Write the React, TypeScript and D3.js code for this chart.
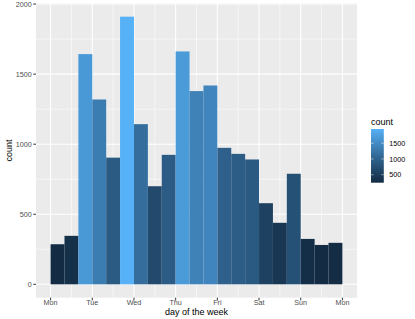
import { useEffect, useRef } from "react";
import * as d3 from "d3";

// day-of-week labels on the x axis (0..7)
const dayLabels = ["Mon", "Tue", "Wed", "Thu", "Fri", "Sat", "Sun", "Mon"];
// 21 bins, 3 per day
const binCounts = [
  286, 346, 1643, 1319, 904, 1910, 1143, 700, 924, 1662, 1379, 1419, 974, 931,
  891, 579, 439, 789, 324, 281, 296,
];
const yTicks = [0, 500, 1000, 1500, 2000];
const yMinor = [250, 750, 1250, 1750];
const legendTicks = [500, 1000, 1500];

export default function App() {
  const chartRef = useRef<SVGSVGElement>(null);

  useEffect(() => {
    if (!chartRef.current) return;
    const W = 415;
    const H = 319;
    const font = "'Liberation Sans', Arial, Helvetica, sans-serif";

    const svg = d3.select(chartRef.current);
    svg.selectAll("*").remove();
    svg.attr("width", W).attr("height", H);

    const panel = { left: 36, right: 357, top: 3.3, bottom: 297.7 };
    const binsPerDay = 3;
    const maxCount = d3.max(binCounts) as number;
    const minCount = d3.min(binCounts) as number;

    const x = d3
      .scaleLinear()
      .domain([-0.35, 7.35])
      .range([panel.left, panel.right]);
    const y = d3
      .scaleLinear()
      .domain([-0.05 * maxCount, 1.05 * maxCount])
      .range([panel.bottom, panel.top]);

    const color = d3
      .scaleLinear<string>()
      .domain([minCount, maxCount])
      .range(["#132B43", "#56B1F7"])
      .interpolate(d3.interpolateLab);

    // panel background
    svg
      .append("rect")
      .attr("x", panel.left)
      .attr("y", panel.top)
      .attr("width", panel.right - panel.left)
      .attr("height", panel.bottom - panel.top)
      .attr("fill", "#EBEBEB");

    const grid = svg.append("g");
    // minor grid
    grid
      .selectAll("line.ymin")
      .data(yMinor)
      .enter()
      .append("line")
      .attr("x1", panel.left)
      .attr("x2", panel.right)
      .attr("y1", (d) => y(d))
      .attr("y2", (d) => y(d))
      .attr("stroke", "#fff")
      .attr("stroke-width", 0.55);
    grid
      .selectAll("line.xmin")
      .data(d3.range(7).map((d) => d + 0.5))
      .enter()
      .append("line")
      .attr("y1", panel.top)
      .attr("y2", panel.bottom)
      .attr("x1", (d) => x(d))
      .attr("x2", (d) => x(d))
      .attr("stroke", "#fff")
      .attr("stroke-width", 0.55);
    // major grid
    grid
      .selectAll("line.ymaj")
      .data(yTicks)
      .enter()
      .append("line")
      .attr("x1", panel.left)
      .attr("x2", panel.right)
      .attr("y1", (d) => y(d))
      .attr("y2", (d) => y(d))
      .attr("stroke", "#fff")
      .attr("stroke-width", 1.07);
    grid
      .selectAll("line.xmaj")
      .data(dayLabels.map((_, i) => i))
      .enter()
      .append("line")
      .attr("y1", panel.top)
      .attr("y2", panel.bottom)
      .attr("x1", (d) => x(d))
      .attr("x2", (d) => x(d))
      .attr("stroke", "#fff")
      .attr("stroke-width", 1.07);

    // bars
    svg
      .append("g")
      .selectAll("rect")
      .data(binCounts)
      .enter()
      .append("rect")
      .attr("x", (_, i) => x(i / binsPerDay))
      .attr("width", (_, i) => x((i + 1) / binsPerDay) - x(i / binsPerDay))
      .attr("y", (d) => y(d))
      .attr("height", (d) => y(0) - y(d))
      .attr("fill", (d) => color(d));

    // y axis ticks + labels
    const yAxis = svg.append("g");
    yAxis
      .selectAll("line")
      .data(yTicks)
      .enter()
      .append("line")
      .attr("x1", panel.left - 2.7)
      .attr("x2", panel.left)
      .attr("y1", (d) => y(d))
      .attr("y2", (d) => y(d))
      .attr("stroke", "#333333")
      .attr("stroke-width", 1);
    yAxis
      .selectAll("text")
      .data(yTicks)
      .enter()
      .append("text")
      .attr("x", panel.left - 4.2)
      .attr("y", (d) => y(d))
      .attr("dy", "0.35em")
      .attr("text-anchor", "end")
      .style("font-family", font)
      .style("font-size", "7.2px")
      .style("fill", "#4D4D4D")
      .text((d) => d);

    // x axis ticks + labels
    const xAxis = svg.append("g");
    xAxis
      .selectAll("line")
      .data(dayLabels)
      .enter()
      .append("line")
      .attr("x1", (_, i) => x(i))
      .attr("x2", (_, i) => x(i))
      .attr("y1", panel.bottom)
      .attr("y2", panel.bottom + 2.7)
      .attr("stroke", "#333333")
      .attr("stroke-width", 1);
    xAxis
      .selectAll("text")
      .data(dayLabels)
      .enter()
      .append("text")
      .attr("x", (_, i) => x(i))
      .attr("y", panel.bottom + 7.4)
      .attr("text-anchor", "middle")
      .style("font-family", font)
      .style("font-size", "7.2px")
      .style("fill", "#4D4D4D")
      .text((d) => d);

    // axis titles
    svg
      .append("text")
      .attr("x", (panel.left + panel.right) / 2)
      .attr("y", 314.6)
      .attr("text-anchor", "middle")
      .style("font-family", font)
      .style("font-size", "9px")
      .style("fill", "#000")
      .text("day of the week");
    svg
      .append("text")
      .attr(
        "transform",
        `translate(11.5, ${(panel.top + panel.bottom) / 2}) rotate(-90)`
      )
      .attr("text-anchor", "middle")
      .style("font-family", font)
      .style("font-size", "9px")
      .style("fill", "#000")
      .text("count");

    // legend
    const bar = { x: 371, y: 129, w: 12.8, h: 53.7 };
    const defs = svg.append("defs");
    const grad = defs
      .append("linearGradient")
      .attr("id", "countGradient")
      .attr("x1", "0%")
      .attr("y1", "100%")
      .attr("x2", "0%")
      .attr("y2", "0%");
    d3.range(0, 1.0001, 0.1).forEach((t) => {
      grad
        .append("stop")
        .attr("offset", `${t * 100}%`)
        .attr("stop-color", color(minCount + t * (maxCount - minCount)));
    });
    const legend = svg.append("g");
    legend
      .append("text")
      .attr("x", bar.x)
      .attr("y", bar.y - 4.5)
      .style("font-family", font)
      .style("font-size", "9px")
      .style("fill", "#000")
      .text("count");
    legend
      .append("rect")
      .attr("x", bar.x)
      .attr("y", bar.y)
      .attr("width", bar.w)
      .attr("height", bar.h)
      .attr("fill", "url(#countGradient)");

    const ly = d3
      .scaleLinear()
      .domain([minCount, maxCount])
      .range([181.6, 130.4]);
    legendTicks.forEach((t) => {
      legend
        .append("line")
        .attr("x1", bar.x)
        .attr("x2", bar.x + bar.w / 5)
        .attr("y1", ly(t))
        .attr("y2", ly(t))
        .attr("stroke", "#fff")
        .attr("stroke-opacity", 0.6)
        .attr("stroke-width", 0.8);
      legend
        .append("line")
        .attr("x1", bar.x + bar.w - bar.w / 5)
        .attr("x2", bar.x + bar.w)
        .attr("y1", ly(t))
        .attr("y2", ly(t))
        .attr("stroke", "#fff")
        .attr("stroke-opacity", 0.6)
        .attr("stroke-width", 0.8);
      legend
        .append("text")
        .attr("x", 389.3)
        .attr("y", ly(t))
        .attr("dy", "0.35em")
        .style("font-family", font)
        .style("font-size", "7.2px")
        .style("fill", "#000")
        .text(t);
    });
  }, []);

  return (
    <svg
      ref={chartRef}
      style={{ position: "absolute", left: 0, top: 0, background: "#fff" }}
    />
  );
}
